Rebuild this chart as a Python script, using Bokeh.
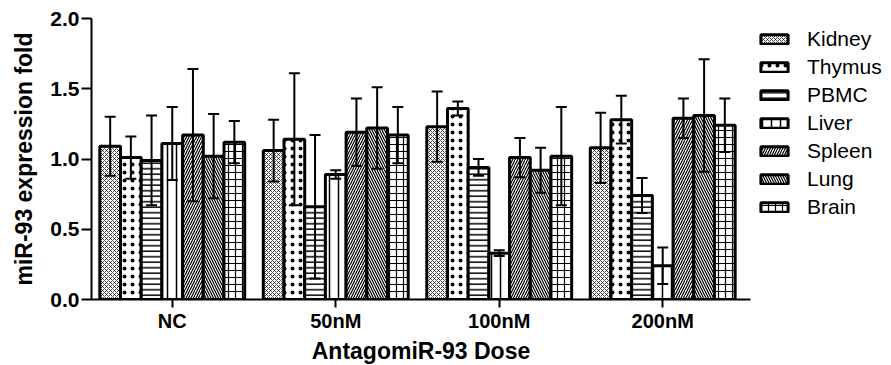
import numpy as np
from bokeh.plotting import figure
from bokeh.models import (Range1d, FixedTicker, Legend, LegendItem, Whisker, TeeHead,
                          ColumnDataSource, NumeralTickFormatter)
from bokeh.embed import file_html
from bokeh.resources import INLINE

groups = ["NC", "50nM", "100nM", "200nM"]
tissues = ["Kidney", "Thymus", "PBMC", "Liver", "Spleen", "Lung", "Brain"]

kidney = [1.09, 1.06, 1.23, 1.08]
kidney_err = [0.21, 0.22, 0.25, 0.25]
thymus = [1.01, 1.14, 1.36, 1.28]
thymus_err = [0.15, 0.47, 0.05, 0.17]
pbmc = [0.99, 0.66, 0.94, 0.74]
pbmc_err = [0.32, 0.51, 0.06, 0.125]
liver = [1.11, 0.89, 0.33, 0.24]
liver_err = [0.26, 0.03, 0.02, 0.13]
spleen = [1.17, 1.19, 1.01, 1.29]
spleen_err = [0.47, 0.24, 0.14, 0.14]
lung = [1.02, 1.22, 0.92, 1.31]
lung_err = [0.30, 0.29, 0.16, 0.40]
brain = [1.12, 1.17, 1.02, 1.24]
brain_err = [0.15, 0.20, 0.35, 0.19]

y_ticks = [0.0, 0.5, 1.0, 1.5, 2.0]

values = [kidney, thymus, pbmc, liver, spleen, lung, brain]
errors = [kidney_err, thymus_err, pbmc_err, liver_err, spleen_err, lung_err, brain_err]
hatches = [("diagonal_cross", 4, 0.7), ("dot", 8, 4.5), ("horizontal_line", 5.5, 1.5),
           ("vertical_line", 9, 1.5), ("right_diagonal_line", 5, 1.2),
           ("left_diagonal_line", 5, 1.2), ("cross", 7, 1.2)]

FONT = "Liberation Sans"

p = figure(frame_width=659, frame_height=281, output_backend="svg", toolbar_location=None,
           x_range=Range1d(-0.494, 3.537), y_range=Range1d(0, 2.0),
           min_border_left=91, min_border_right=141, min_border_top=18, min_border_bottom=66)
p.outline_line_color = None
p.xgrid.grid_line_color = None
p.ygrid.grid_line_color = None
p.background_fill_color = "white"

bw = 0.1266
base = np.arange(len(groups))
items = []
for i, (name, vals, errs, (hp, hs, hw)) in enumerate(zip(tissues, values, errors, hatches)):
    xs = base + (i - 3) * bw
    v = np.array(vals)
    e = np.array(errs)
    src = ColumnDataSource(dict(x=xs, top=v, upper=v + e, lower=v - e))
    r = p.vbar(x="x", top="top", width=bw, bottom=0, source=src,
               fill_color="white", line_color="black", line_width=3,
               hatch_pattern=hp, hatch_scale=hs, hatch_weight=hw, hatch_color="black")
    w = Whisker(source=src, base="x", upper="upper", lower="lower", dimension="height",
                line_color="black", line_width=2, level="annotation",
                upper_head=TeeHead(size=11, line_width=2, line_color="black"),
                lower_head=TeeHead(size=11, line_width=2, line_color="black"))
    p.add_layout(w)
    items.append(LegendItem(label=name, renderers=[r]))

legend = Legend(items=items, location=(7, 80), padding=0, margin=0,
                border_line_color=None, background_fill_alpha=0,
                glyph_width=34, glyph_height=12, label_standoff=16,
                label_text_font=FONT, label_text_font_size="21px", label_height=24,
                label_text_color="black", spacing=4)
p.add_layout(legend, "right")

p.xaxis.ticker = FixedTicker(ticks=list(base))
p.xaxis.major_label_overrides = {int(i): g for i, g in zip(base, groups)}
p.yaxis.ticker = FixedTicker(ticks=y_ticks)
p.yaxis.formatter = NumeralTickFormatter(format="0.0")

for ax in (p.xaxis, p.yaxis):
    ax.axis_line_width = 2
    ax.major_tick_line_width = 2
    ax.major_tick_in = 0
    ax.minor_tick_line_color = None
    ax.major_label_text_font = FONT
    ax.major_label_text_font_style = "bold"
    ax.major_label_text_color = "black"
    ax.axis_label_text_font = FONT
    ax.axis_label_text_font_style = "bold"
    ax.axis_label_text_font_size = "23px"
    ax.axis_label_text_color = "black"

p.xaxis.major_tick_out = 8
p.yaxis.major_tick_out = 10
p.xaxis.major_label_text_font_size = "20px"
p.yaxis.major_label_text_font_size = "21px"
p.xaxis.axis_label = "AntagomiR-93 Dose"
p.yaxis.axis_label = "miR-93 expression fold"
p.xaxis.major_label_standoff = 2
p.yaxis.major_label_standoff = 2
p.xaxis.axis_label_standoff = 3
p.yaxis.axis_label_standoff = 10

open("out.html", "w").write(file_html(p, INLINE))
